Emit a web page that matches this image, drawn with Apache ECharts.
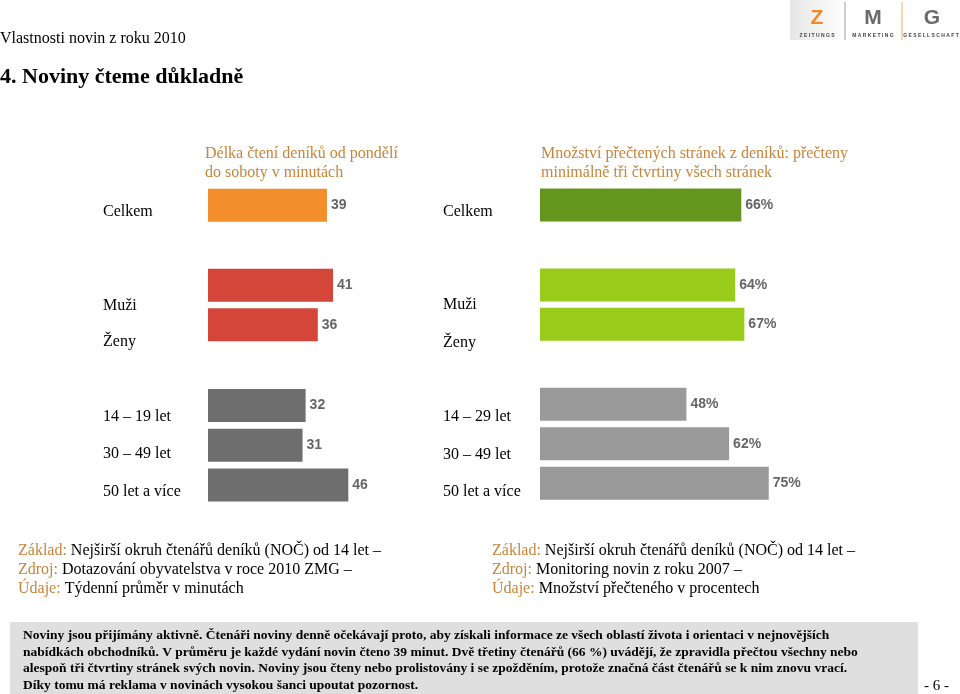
<!DOCTYPE html>
<html><head><meta charset="utf-8">
<script src="https://cdn.jsdelivr.net/npm/echarts@6/dist/echarts.min.js"></script>
<style>html,body{margin:0;padding:0;background:#fff}#c{width:960px;height:694px}</style>
</head><body><div id="c"></div>
<script>
// ---- data ----
const leftTotalCats = ['Celkem'];
const leftTotalVals = [39];
const leftGenderCats = ['Muži', 'Ženy'];
const leftGenderVals = [41, 36];
const leftAgeCats = ['14 – 19 let', '30 – 49 let', '50 let a více'];
const leftAgeVals = [32, 31, 46];
const rightTotalCats = ['Celkem'];
const rightTotalVals = [66];
const rightGenderCats = ['Muži', 'Ženy'];
const rightGenderVals = [64, 67];
const rightAgeCats = ['14 – 29 let', '30 – 49 let', '50 let a více'];
const rightAgeVals = [48, 62, 75];
const leftTitle = ['Délka čtení deníků od pondělí', 'do soboty v minutách'];
const rightTitle = ['Množství přečtených stránek z deníků: přečteny', 'minimálně tři čtvrtiny všech stránek'];
const leftNotes = [['Základ:', ' Nejširší okruh čtenářů deníků (NOČ) od 14 let –'], ['Zdroj:', ' Dotazování obyvatelstva v roce 2010 ZMG –'], ['Údaje:', ' Týdenní průměr v minutách']];
const rightNotes = [['Základ:', ' Nejširší okruh čtenářů deníků (NOČ) od 14 let –'], ['Zdroj:', ' Monitoring novin z roku 2007 –'], ['Údaje:', ' Množství přečteného v procentech']];
const bodyText = [
  'Noviny jsou přijímány aktivně. Čtenáři noviny denně očekávají proto, aby získali informace ze všech oblastí života i orientaci v nejnovějších',
  'nabídkách obchodníků. V průměru je každé vydání novin čteno 39 minut. Dvě třetiny čtenářů (66 %) uvádějí, že zpravidla přečtou všechny nebo',
  'alespoň tři čtvrtiny stránek svých novin. Noviny jsou čteny nebo prolistovány i se zpožděním, protože značná část čtenářů se k nim znovu vrací.',
  'Díky tomu má reklama v novinách vysokou šanci upoutat pozornost.'
];

// ---- layout / style ----
const SERIF = '"Liberation Serif", "DejaVu Serif", serif';
const SANS = '"Liberation Sans", Arial, sans-serif';
const panels = [
  {cats: leftTotalCats, vals: leftTotalVals, color: '#F28E2C', left: 208, top: 185.6, height: 39.4, labelX: 103, suffix: '', offs: [6]},
  {cats: leftGenderCats, vals: leftGenderVals, color: '#D4463A', left: 208, top: 265.6, height: 78.8, labelX: 103, suffix: '', offs: [20, 17]},
  {cats: leftAgeCats, vals: leftAgeVals, color: '#6E6E6E', left: 208, top: 385.6, height: 119.3, labelX: 103, suffix: '', offs: [11, 9, 7]},
  {cats: rightTotalCats, vals: rightTotalVals, color: '#64951C', left: 540, top: 185.3, height: 39.4, labelX: 443, suffix: '%', offs: [6.5]},
  {cats: rightGenderCats, vals: rightGenderVals, color: '#99CC1A', left: 540, top: 265.2, height: 78.8, labelX: 443, suffix: '%', offs: [20, 18.5]},
  {cats: rightAgeCats, vals: rightAgeVals, color: '#9A9A9A', left: 540, top: 384.5, height: 118.5, labelX: 443, suffix: '%', offs: [13, 11, 9]}
];

const grid = [], xAxis = [], yAxis = [], series = [];
panels.forEach((p, i) => {
  grid.push({left: p.left, top: p.top, width: 305, height: p.height});
  xAxis.push({gridIndex: i, type: 'value', min: 0, max: 100, show: false});
  const rich = {};
  p.offs.forEach((o, k) => { rich['l' + k] = {fontFamily: SERIF, fontSize: 16, color: '#000', padding: [o * 2, 0, 0, 0]}; });
  yAxis.push({
    gridIndex: i, type: 'category', inverse: true, data: p.cats,
    axisLine: {show: false}, axisTick: {show: false}, splitLine: {show: false},
    axisLabel: {align: 'left', margin: p.left - p.labelX, formatter: (v, k) => '{l' + k + '|' + v + '}', rich: rich}
  });
  series.push({
    type: 'bar', xAxisIndex: i, yAxisIndex: i, data: p.vals, barWidth: 33, silent: true,
    itemStyle: {color: p.color},
    label: {show: true, position: 'right', distance: 4, formatter: '{c}' + p.suffix,
      color: '#666', fontFamily: SANS, fontWeight: 'bold', fontSize: 14}
  });
});

const graphic = [];
const txt = (x, y, text, font, fill, extra) => graphic.push(Object.assign({type: 'text', x: x, y: y, silent: true,
  style: {text: text, font: font, fill: fill, verticalAlign: 'middle', align: 'left'}}, extra || {}));

txt(0, 39, 'Vlastnosti novin z roku 2010', '16px ' + SERIF, '#000');
txt(0, 77, '4. Noviny čteme důkladně', 'bold 22px ' + SERIF, '#000');
leftTitle.forEach((t, k) => txt(205, 154 + k * 18.5, t, '16px ' + SERIF, '#C8843A'));
rightTitle.forEach((t, k) => txt(541, 154 + k * 18.5, t, '16px ' + SERIF, '#C8843A'));

const noteRich = {o: {fill: '#C8843A', font: '16px ' + SERIF}, b: {fill: '#000', font: '16px ' + SERIF}};
leftNotes.forEach((n, k) => graphic.push({type: 'text', x: 18, y: 551 + k * 18.7, silent: true,
  style: {text: '{o|' + n[0] + '}{b|' + n[1] + '}', rich: noteRich, verticalAlign: 'middle', font: '16px ' + SERIF}}));
rightNotes.forEach((n, k) => graphic.push({type: 'text', x: 492, y: 551 + k * 18.7, silent: true,
  style: {text: '{o|' + n[0] + '}{b|' + n[1] + '}', rich: noteRich, verticalAlign: 'middle', font: '16px ' + SERIF}}));

graphic.push({type: 'rect', silent: true, shape: {x: 10, y: 622, width: 908, height: 72}, style: {fill: '#DFDFDF'}});
bodyText.forEach((t, k) => txt(23, 636 + k * 16.5, t, 'bold 13.5px ' + SERIF, '#000'));
txt(924, 686, '- 6 -', '15px ' + SERIF, '#000');

// logo
graphic.push({type: 'rect', silent: true, shape: {x: 790, y: 0, width: 56, height: 40},
  style: {fill: new echarts.graphic.LinearGradient(0, 0, 1, 0, [{offset: 0, color: '#e6e6e6'}, {offset: 1, color: '#ffffff'}])}});
graphic.push({type: 'line', silent: true, shape: {x1: 845, y1: 2, x2: 845, y2: 40}, style: {stroke: '#999', lineWidth: 1}});
graphic.push({type: 'line', silent: true, shape: {x1: 902, y1: 2, x2: 902, y2: 40}, style: {stroke: '#F0B060', lineWidth: 1}});
graphic.push({type: 'text', silent: true, x: 817, y: 18, style: {text: 'Z', font: 'bold 21px ' + SANS, fill: '#F08A24', align: 'center', verticalAlign: 'middle'}});
graphic.push({type: 'text', silent: true, x: 873, y: 18, style: {text: 'M', font: 'bold 21px ' + SANS, fill: '#6a6a6a', align: 'center', verticalAlign: 'middle'}});
graphic.push({type: 'text', silent: true, x: 932, y: 18, style: {text: 'G', font: 'bold 21px ' + SANS, fill: '#6a6a6a', align: 'center', verticalAlign: 'middle'}});
graphic.push({type: 'text', silent: true, x: 817, y: 36, style: {text: 'Z E I T U N G S', font: 'bold 5px ' + SANS, fill: '#444', align: 'center', verticalAlign: 'middle'}});
graphic.push({type: 'text', silent: true, x: 873, y: 36, style: {text: 'M A R K E T I N G', font: 'bold 5px ' + SANS, fill: '#444', align: 'center', verticalAlign: 'middle'}});
graphic.push({type: 'text', silent: true, x: 931, y: 36, style: {text: 'G E S E L L S C H A F T', font: 'bold 5px ' + SANS, fill: '#444', align: 'center', verticalAlign: 'middle'}});

const chart = echarts.init(document.getElementById('c'), null, {renderer: 'canvas'});
chart.setOption({animation: false, backgroundColor: '#fff', grid, xAxis, yAxis, series, graphic});
</script></body></html>
